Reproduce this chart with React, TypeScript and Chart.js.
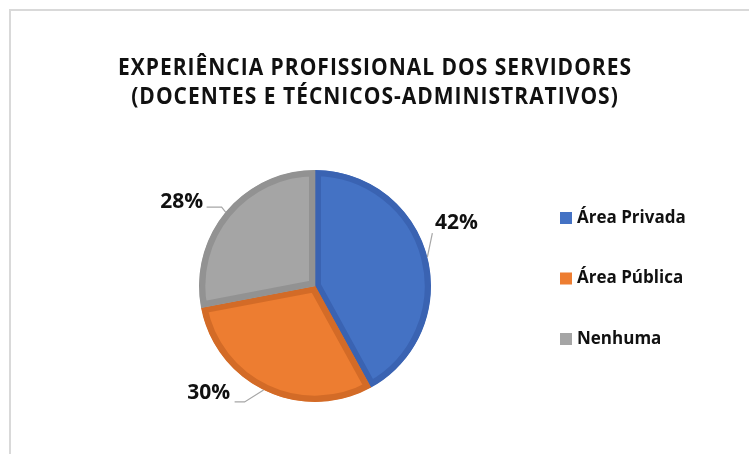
import { useEffect, useRef } from 'react';
import { Chart, registerables } from 'chart.js';

Chart.register(...registerables);

const TITLE_LINES = ['EXPERIÊNCIA PROFISSIONAL DOS SERVIDORES', '(DOCENTES E TÉCNICOS-ADMINISTRATIVOS)'];
const CATEGORIES = ['Área Privada', 'Área Pública', 'Nenhuma'];
const SHARES = [42, 30, 28];
const PERCENT_LABELS = ['42%', '30%', '28%'];

const FILL_COLORS = ['#4472C4', '#ED7D31', '#A5A5A5'];
const BORDER_COLORS = ['#3A63B2', '#D36B27', '#929292'];
const TEXT_COLOR = '#111111';
const FONT = '"Open Sans", "Liberation Sans", sans-serif';

// label placement relative to the point where each slice's mid-angle meets the rim
const LABEL_LAYOUT = [
  { tx: 29, ty: -34, leader: [[0, 0], [5, -24]] },
  { tx: -57, ty: 2, leader: [[-2, -1], [-21, 11], [-31, 11]] },
  { tx: -44, ty: -10, leader: [[0, 0], [-4, -5], [-19, -5]] },
];

const framePlugin = {
  id: 'frameAndTitle',
  beforeDraw(chart: any) {
    const { ctx, width, height } = chart;
    ctx.save();
    ctx.fillStyle = '#ffffff';
    ctx.fillRect(0, 0, width, height);
    ctx.strokeStyle = '#d9d9d9';
    ctx.lineWidth = 2;
    ctx.beginPath();
    ctx.moveTo(10, height);
    ctx.lineTo(10, 10);
    ctx.lineTo(width, 10);
    ctx.stroke();
    ctx.fillStyle = TEXT_COLOR;
    ctx.font = `bold 21px ${FONT}`;
    (ctx as any).letterSpacing = '1px';
    ctx.textAlign = 'center';
    ctx.textBaseline = 'middle';
    TITLE_LINES.forEach((line, i) => {
      const cy = 68 + i * 29.5;
      ctx.save();
      ctx.translate(375, cy);
      ctx.scale(1, 1.1);
      ctx.fillText(line, 0, 0);
      ctx.restore();
    });
    ctx.restore();
  },
};

const labelsPlugin = {
  id: 'sliceLabels',
  afterDatasetsDraw(chart: any) {
    const { ctx } = chart;
    const meta = chart.getDatasetMeta(0);
    ctx.save();
    meta.data.forEach((arc: any, i: number) => {
      const mid = (arc.startAngle + arc.endAngle) / 2;
      const ex = arc.x + Math.cos(mid) * arc.outerRadius;
      const ey = arc.y + Math.sin(mid) * arc.outerRadius;
      const lay = LABEL_LAYOUT[i];
      ctx.strokeStyle = '#a6a6a6';
      ctx.lineWidth = 1.2;
      ctx.beginPath();
      lay.leader.forEach(([dx, dy], j) => {
        if (j === 0) ctx.moveTo(ex + dx, ey + dy);
        else ctx.lineTo(ex + dx, ey + dy);
      });
      ctx.stroke();
      ctx.fillStyle = TEXT_COLOR;
      ctx.font = `bold 21px ${FONT}`;
      ctx.textAlign = 'center';
      ctx.textBaseline = 'middle';
      ctx.fillText(PERCENT_LABELS[i], ex + lay.tx, ey + lay.ty);
    });
    ctx.restore();
  },
};

const legendPlugin = {
  id: 'sideLegend',
  afterDraw(chart: any) {
    const { ctx } = chart;
    ctx.save();
    ctx.font = `bold 17px ${FONT}`;
    ctx.textAlign = 'left';
    ctx.textBaseline = 'middle';
    CATEGORIES.forEach((name, i) => {
      const cy = 218 + i * 60.5;
      ctx.fillStyle = FILL_COLORS[i];
      ctx.fillRect(560, cy - 6, 12, 12);
      ctx.fillStyle = TEXT_COLOR;
      ctx.fillText(name, 577, cy);
    });
    ctx.restore();
  },
};

export default function App() {
  const ref = useRef<HTMLCanvasElement | null>(null);
  useEffect(() => {
    document.body.style.margin = '0';
    const canvas = ref.current;
    if (!canvas) return;
    const chart = new Chart(canvas, {
      type: 'pie',
      data: {
        labels: CATEGORIES,
        datasets: [
          {
            data: SHARES,
            backgroundColor: FILL_COLORS,
            borderColor: BORDER_COLORS,
            borderWidth: 6,
            borderAlign: 'inner',
            radius: 116,
          } as any,
        ],
      },
      options: {
        animation: false,
        responsive: false,
        devicePixelRatio: 1,
        layout: { padding: { left: 199, right: 318, top: 170, bottom: 52 } },
        plugins: {
          legend: { display: false },
          title: { display: false },
          tooltip: { enabled: false },
        },
      },
      plugins: [framePlugin, labelsPlugin, legendPlugin],
    });
    return () => chart.destroy();
  }, []);
  return (
    <div style={{ width: 749, height: 454 }}>
      <canvas ref={ref} width={749} height={454} style={{ display: 'block' }} />
    </div>
  );
}
